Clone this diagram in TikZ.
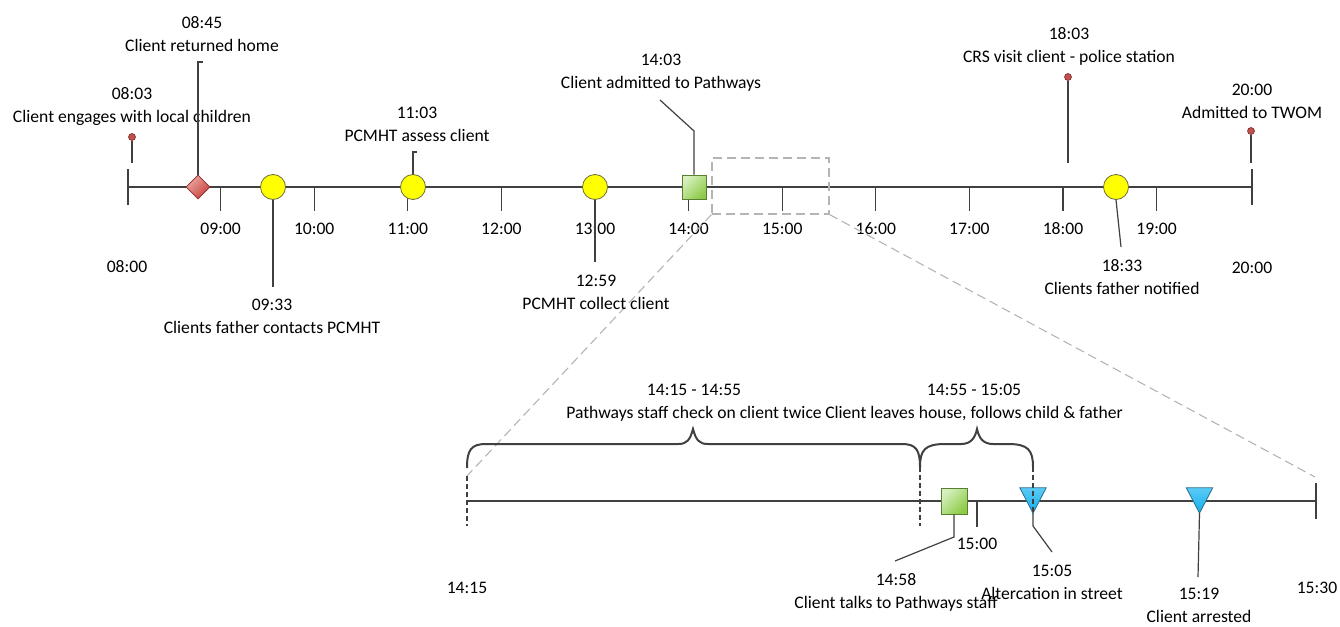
\documentclass[tikz,border=0pt]{standalone}
\usepackage{fontspec}
\setmainfont{Carlito}
\usetikzlibrary{shapes.geometric}
\definecolor{axisc}{HTML}{404040}
\definecolor{zoomc}{HTML}{B4B4B4}
\definecolor{dotred}{HTML}{C0504D}
\definecolor{dotline}{HTML}{7F2B28}
\definecolor{yel}{HTML}{FFFF00}
\definecolor{yelline}{HTML}{6B6B3A}
\definecolor{grn}{HTML}{8DCC48}
\definecolor{grnlt}{HTML}{D8F0C0}
\definecolor{grnline}{HTML}{5A7F32}
\definecolor{blu}{HTML}{12AEEC}
\definecolor{blult}{HTML}{5ACBF6}
\definecolor{bluline}{HTML}{2C6E8C}
\definecolor{dia}{HTML}{C8423C}
\definecolor{dialt}{HTML}{EBA6A2}
\definecolor{dialine}{HTML}{8B2A26}
\tikzset{
  txt/.style={font=\fontsize{17.6}{23}\selectfont, align=center, inner sep=0pt, text=black},
  axis/.style={draw=axisc, line width=1.3pt},
  tk/.style={draw=axisc, line width=1.3pt},
  dtk/.style={draw=axisc, line width=1.3pt, dash pattern=on 5pt off 3pt},
  conn/.style={draw=axisc, line width=1.2pt},
  brc/.style={draw=axisc, line width=2pt},
  zoomln/.style={draw=zoomc, line width=1.1pt, dash pattern=on 9pt off 5pt},
  dot/.style={circle, inner sep=0pt, minimum size=7pt, fill=dotred, draw=dotline, line width=0.6pt},
  yc/.style={circle, inner sep=0pt, minimum size=25pt, fill=yel, draw=yelline, line width=0.8pt},
  gsq/.style={rectangle, inner sep=0pt, minimum size=#1, top color=grnlt, bottom color=grn, shading angle=45, draw=grnline, line width=0.8pt},
  diam/.style={diamond, inner sep=0pt, minimum width=24pt, minimum height=24pt, top color=dialt, bottom color=dia, shading angle=45, draw=dialine, line width=0.8pt},
  trib/.style={rectangle, inner sep=0pt, minimum width=26pt, minimum height=25pt},
  zbox/.style={rectangle, inner sep=0pt, minimum width=117pt, minimum height=56pt, zoomln}
}
\begin{document}
\begin{tikzpicture}[x=1pt,y=-1pt]
\useasboundingbox (0,0) rectangle (1340,626);
% ---------- main axis ----------
\coordinate (L) at (128,187);
\coordinate (R) at (1252,187);
\draw[axis] (L) -- (R);
\draw[tk] (128,169) -- (128,205);
\draw[tk] (1252,169) -- (1252,205);
\foreach \h/\x in {09/220.6,10/314.2,11/407.8,12/501.4,13/595,14/688.6,15/782.2,16/875.8,17/969.4,18/1063,19/1156.6}{
  \draw[tk] (\x,187) -- (\x,211);
  \node[txt] (h\h) at (\x,229) {\h:00};
}
\node[txt] (h08) at (127,267) {08:00};
\node[txt] (h20) at (1252,268) {20:00};
% ---------- zoom box ----------
\node[zbox] (zr) at (770.5,186) {};
\coordinate (zl) at (467,476);
\coordinate (zrr) at (1315,477);
\draw[zoomln] (zr.south west) -- (zl);
\draw[zoomln] (zr.south east) -- (zrr);
% ---------- events (main) ----------
\node[dot] (p0803) at (132,137) {};
\coordinate (a0803) at (132,163);
\draw[conn] (p0803) -- (a0803);
\node[txt] (l0803) at (132,106.5) {08:03\\Client engages with local children};

\node[diam] (m0845) at (198,187) {};
\coordinate (k0845) at (198,62);
\coordinate (j0845) at (203,62);
\draw[conn] (m0845.north) -- (k0845) -- (j0845);
\node[txt] (l0845) at (202,34.5) {08:45\\Client returned home};

\node[yc] (m0933) at (273,187) {};
\coordinate (k0933) at (273,287);
\draw[conn] (m0933.south) -- (k0933);
\node[txt] (l0933) at (272,316.5) {09:33\\Clients father contacts PCMHT};

\node[yc] (m1103) at (413,187) {};
\coordinate (k1103) at (413,152);
\coordinate (j1103) at (417,152);
\draw[conn] (m1103.north) -- (k1103) -- (j1103);
\node[txt] (l1103) at (417,124.5) {11:03\\PCMHT assess client};

\node[yc] (m1259) at (595,187) {};
\coordinate (k1259) at (595,262);
\draw[conn] (m1259.south) -- (k1259);
\node[txt] (l1259) at (596,292) {12:59\\PCMHT collect client};

\node[gsq=24pt] (m1403) at (694,187) {};
\coordinate (k1403) at (694,131);
\coordinate (j1403) at (660,100);
\draw[conn] (m1403.north) -- (k1403) -- (j1403);
\node[txt] (l1403) at (661,73) {14:03\\Client admitted to Pathways};

\node[dot] (p1803) at (1068,77) {};
\coordinate (a1803) at (1068,163);
\draw[conn] (p1803) -- (a1803);
\node[txt] (l1803) at (1069,46) {18:03\\CRS visit client - police station};

\node[yc] (m1833) at (1116,187) {};
\coordinate (k1833) at (1121,247);
\draw[conn] (m1833.south) -- (k1833);
\node[txt] (l1833) at (1122,277.5) {18:33\\Clients father notified};

\node[dot] (p2000) at (1251,131) {};
\coordinate (a2000) at (1251,163);
\draw[conn] (p2000) -- (a2000);
\node[txt] (l2000) at (1252,101) {20:00\\Admitted to TWOM};
% ---------- lower axis ----------
\coordinate (LL) at (467,501);
\coordinate (RR) at (1316,501);
\draw[axis] (LL) -- (RR);
\draw[tk] (1316,483) -- (1316,519);
\draw[dtk] (467,476) -- (467,526);
\draw[dtk] (920,467) -- (920,526);
\draw[tk] (977,501) -- (977,527);
\node[txt] (s1415) at (467,588) {14:15};
\node[txt] (s1530) at (1317,588) {15:30};
\node[txt] (s1500) at (977,544) {15:00};
% braces
\draw[brc] (467,468) .. controls (467,450) and (471,444) .. (486,444) -- (678,444)
  .. controls (687,444) and (690,440) .. (693,429)
  .. controls (696,440) and (699,444) .. (708,444) -- (902,444)
  .. controls (916,444) and (920,450) .. (920,467);
\draw[brc] (920,467) .. controls (920,450) and (925,444) .. (945,444) -- (961,444)
  .. controls (971,444) and (975,438) .. (977,429)
  .. controls (979,438) and (983,444) .. (993,444) -- (1008,444)
  .. controls (1028,444) and (1033,450) .. (1033,467);
\node[txt] (b1) at (694,402.5) {14:15 - 14:55\\Pathways staff check on client twice};
\node[txt] (b2) at (974,402.5) {14:55 - 15:05\\Client leaves house, follows child \& father};
% 14:58
\node[gsq=26pt] (m1458) at (954,501) {};
\coordinate (k1458) at (954,537);
\coordinate (j1458) at (895,561);
\draw[conn] (m1458.south) -- (k1458) -- (j1458);
\node[txt] (l1458) at (896,592.5) {14:58\\Client talks to Pathways staff};
% 15:05
\node[trib] (m1505) at (1033,500.5) {};
\shade[top color=blult, bottom color=blu, draw=bluline, line width=0.8pt] (m1505.north west) -- (m1505.north east) -- (m1505.south) -- cycle;
\draw[dtk] (1033,467) -- (1033,513);
\coordinate (k1505) at (1033,526);
\coordinate (j1505) at (1052,552);
\draw[conn] (m1505.south) -- (k1505) -- (j1505);
\node[txt] (l1505) at (1052,582.5) {15:05\\Altercation in street};
% 15:19
\node[trib] (m1519) at (1199.5,500.5) {};
\shade[top color=blult, bottom color=blu, draw=bluline, line width=0.8pt] (m1519.north west) -- (m1519.north east) -- (m1519.south) -- cycle;
\coordinate (k1519) at (1198,577);
\draw[conn] (m1519.south) -- (k1519);
\node[txt] (l1519) at (1199,605.5) {15:19\\Client arrested};
\end{tikzpicture}
\end{document}
